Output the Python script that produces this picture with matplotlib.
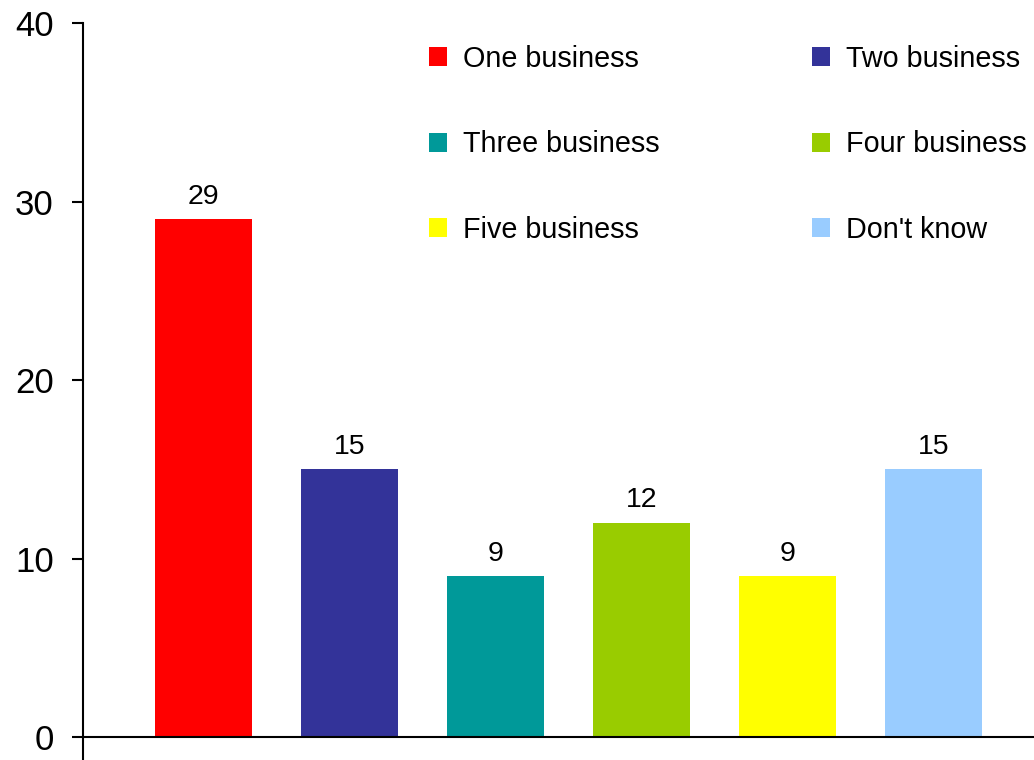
import matplotlib
matplotlib.use("Agg")
import matplotlib.pyplot as plt

categories = ["One business", "Two business", "Three business",
              "Four business", "Five business", "Don't know"]
values = [29, 15, 9, 12, 9, 15]
colors = ["#FF0000", "#333399", "#009999", "#99CC00", "#FFFF00", "#99CCFF"]
yticks = [0, 10, 20, 30, 40]

plt.rcParams['font.family'] = ['Liberation Sans', 'DejaVu Sans']

W, H = 1034, 760
fig = plt.figure(figsize=(W / 100, H / 100), dpi=100)
ax = fig.add_axes([83 / W, 0, 1 - 83 / W, 1 - 23 / H])

x = list(range(len(categories)))
bars = []
for xi, v, c, lab in zip(x, values, colors, categories):
    b = ax.bar(xi, v, width=0.664, color=c, label=lab, zorder=2)
    bars.append(b)
    ax.bar_label(b, labels=[str(v)], padding=7, fontsize=20.5)

ax.set_xlim(-0.825, 5.688)
ax.set_ylim(-23 / 17.85, 40)
ax.set_yticks(yticks)
ax.set_xticks([])
ax.spines['top'].set_visible(False)
ax.spines['right'].set_visible(False)
ax.spines['bottom'].set_position(('data', 0))
for s in ('left', 'bottom'):
    ax.spines[s].set_linewidth(1.5)
    ax.spines[s].set_zorder(3)
ax.tick_params(axis='y', direction='out', length=8, width=1.5, pad=13, labelsize=25)

# legend filled row by row (2 columns)
order = [0, 2, 4, 1, 3, 5]
ax.legend([bars[i] for i in order], [categories[i] for i in order],
          ncol=2, loc='upper left', bbox_to_anchor=(429 / W, 1 - 45 / H),
          bbox_transform=fig.transFigure, frameon=False, fontsize=20.7,
          handlelength=0.63, handleheight=0.63, handletextpad=0.56,
          columnspacing=5.3, labelspacing=2.0, borderpad=0, borderaxespad=0)

fig.savefig("out.png", dpi=100)
